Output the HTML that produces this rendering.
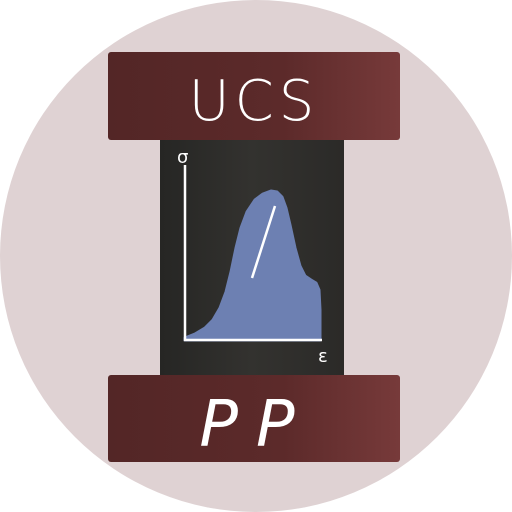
<!DOCTYPE html>
<html><head><meta charset="utf-8"><style>
html,body{margin:0;padding:0;background:#fff;width:512px;height:512px;overflow:hidden}
</style></head><body>
<svg id="logo" width="512" height="512" viewBox="0 0 512 512">
<defs>
<linearGradient id="bar" x1="0" x2="1"><stop offset="0" stop-color="#532626"/><stop offset="0.6" stop-color="#5c2a2a"/><stop offset="1" stop-color="#773a3a"/></linearGradient>
<linearGradient id="mid" x1="0" x2="1"><stop offset="0" stop-color="#262624"/><stop offset="0.5" stop-color="#33322f"/><stop offset="1" stop-color="#2b2a28"/></linearGradient>
</defs>
<circle cx="256" cy="256" r="256" fill="#dfd2d3"/>
<rect x="160" y="138" width="184" height="240" fill="url(#mid)"/>
<rect x="108" y="52" width="292" height="88" rx="3" fill="url(#bar)"/>
<rect x="108" y="375" width="292" height="87" rx="3" fill="url(#bar)"/>
<text x="254" y="120" text-anchor="middle" font-family="DejaVu Sans, Liberation Sans, sans-serif" font-weight="200" font-size="56" fill="#fff" letter-spacing="5">UCS</text>
<text x="256" y="446" text-anchor="middle" font-family="DejaVu Sans, Liberation Sans, sans-serif" font-weight="200" font-style="italic" font-size="64" fill="#fff" letter-spacing="18">PP</text>
<g id="chart"></g>
</svg>
<script>
const curveX = [0, 10, 20, 28, 35, 41, 46, 51, 56, 62, 70, 78, 86, 92, 97, 101, 105, 110, 115, 120, 126, 131, 134, 135, 135];
const curveY = [2, 6, 12, 20, 32, 48, 68, 92, 112, 128, 140, 146, 149, 148, 143, 132, 115, 92, 74, 64, 60, 57, 50, 30, 0];
const peakLine = [[90, 134], [67, 62]];
const ox = 185, oy = 340, sx = 1, sy = 1;
const X = v => ox + v * sx, Y = v => oy - v * sy;
const g = document.getElementById('chart');
const ns = 'http://www.w3.org/2000/svg';
let d = 'M' + X(0) + ' ' + Y(0);
for (let i = 0; i < curveX.length; i++) d += ' L' + X(curveX[i]) + ' ' + Y(curveY[i]);
d += ' Z';
const area = document.createElementNS(ns, 'path');
area.setAttribute('d', d);
area.setAttribute('fill', '#6d80b2');
area.setAttribute('stroke', '#6d80b2');
area.setAttribute('stroke-linejoin', 'round');
area.setAttribute('stroke-width', '3');


g.appendChild(area);
const ln = document.createElementNS(ns, 'line');
ln.setAttribute('x1', X(peakLine[0][0])); ln.setAttribute('y1', Y(peakLine[0][1]));
ln.setAttribute('x2', X(peakLine[1][0])); ln.setAttribute('y2', Y(peakLine[1][1]));
ln.setAttribute('stroke', '#fff'); ln.setAttribute('stroke-width', '2.5');


g.appendChild(ln);
const ax = document.createElementNS(ns, 'path');
ax.setAttribute('d', 'M185 165 L185 340 L322 340');
ax.setAttribute('stroke', '#fff'); ax.setAttribute('stroke-width', '2.5'); ax.setAttribute('fill', 'none');


g.appendChild(ax);
const s = document.createElementNS(ns, 'text');
s.setAttribute('x', '177'); s.setAttribute('y', '163'); s.setAttribute('fill', '#fff');
s.setAttribute('font-family', 'DejaVu Sans, sans-serif'); s.setAttribute('font-size', '18');
s.textContent = 'σ';


g.appendChild(s);
const e = document.createElementNS(ns, 'text');
e.setAttribute('x', '318'); e.setAttribute('y', '362'); e.setAttribute('fill', '#fff');
e.setAttribute('font-family', 'DejaVu Sans, sans-serif'); e.setAttribute('font-size', '18');
e.textContent = 'ε';


g.appendChild(e);
</script>
</body></html>
